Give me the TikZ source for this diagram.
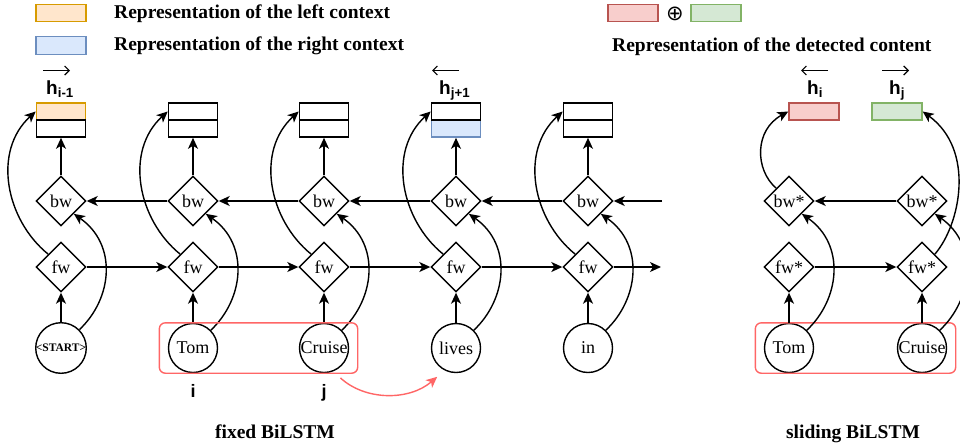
\documentclass[tikz,border=0pt]{standalone}
\usepackage{fontspec}
\setmainfont{Liberation Serif}
\newfontfamily\hsans{Liberation Sans}
\newfontfamily\dejavu{DejaVu Sans}
\usetikzlibrary{arrows.meta,shapes.geometric,fit,calc}
\definecolor{orF}{HTML}{FFE6CC}\definecolor{orL}{HTML}{D79B00}
\definecolor{blF}{HTML}{DAE8FC}\definecolor{blL}{HTML}{6C8EBF}
\definecolor{rdF}{HTML}{F8CECC}\definecolor{rdL}{HTML}{B85450}
\definecolor{grF}{HTML}{D5E8D4}\definecolor{grL}{HTML}{82B366}
\definecolor{hlR}{HTML}{FF6666}
\begin{document}
\begin{tikzpicture}[x=1pt,y=-1pt,
  conn/.style={line width=1.4pt,-{Stealth[length=11pt,width=10pt,inset=3pt]}},
  redconn/.style={line width=1.4pt,draw=hlR,-{Stealth[length=11pt,width=10pt,inset=3pt]}},
  word/.style={circle,draw,line width=1.4pt,minimum size=49pt,inner sep=0pt,font=\fontsize{18}{18}\selectfont},
  cell/.style={diamond,draw,line width=1.4pt,minimum width=50pt,minimum height=50pt,inner sep=0pt,font=\fontsize{18}{18}\selectfont},
  half/.style={rectangle,draw,line width=1.6pt,minimum width=49pt,minimum height=17pt,inner sep=0pt},
  rep/.style={rectangle,draw,line width=1.4pt,minimum width=50pt,minimum height=17pt,inner sep=0pt},
  leg/.style={rectangle,draw,line width=1.3pt,minimum width=50pt,minimum height=17.5pt,inner sep=0pt},
  legtext/.style={anchor=base west,inner sep=0pt,font=\fontsize{19.5}{19.5}\selectfont\bfseries},
  titletext/.style={anchor=base,inner sep=0pt,font=\fontsize{19.5}{19.5}\selectfont\bfseries},
  hlab/.style={anchor=base west,inner sep=0pt,font=\hsans\bfseries\fontsize{19}{19}\selectfont},
  idx/.style={anchor=base,inner sep=0pt,font=\hsans\bfseries\fontsize{18}{18}\selectfont},
  harr/.style={line width=1.2pt,-{Straight Barb[length=4.5pt,width=9pt]}},
  hlbox/.style={draw=hlR,line width=1.4pt,rounded corners=6pt,inner xsep=8.5pt,inner ysep=0pt}
]
\useasboundingbox (0,0) rectangle (960,447);

% legend
\node[leg,fill=orF,draw=orL] (lg1) at (61,13) {};
\node[leg,fill=blF,draw=blL] (lg2) at (61,45.5) {};
\node[legtext] (lt1) at (114,18.5) {Representation of the left context};
\node[legtext] (lt2) at (114,50) {Representation of the right context};
\node[leg,fill=rdF,draw=rdL] (lg3) at (633,13) {};
\node[inner sep=0pt,font=\dejavu\fontsize{21}{21}\selectfont] (op) at (675,14) {⊕};
\node[leg,fill=grF,draw=grL] (lg4) at (716,13) {};
\node[legtext] (lt3) at (612,51) {Representation of the detected content};

% fixed BiLSTM columns
\foreach \n/\x/\lab in {0/61/{\fontsize{11.5}{11.5}\selectfont\bfseries <START>},1/193/Tom,2/324/Cruise,3/456/lives,4/588/in}{
  \node[word] (w\n) at (\x,348) {\lab};
  \node[cell] (f\n) at (\x,267) {fw};
  \node[cell] (b\n) at (\x,201) {bw};
}
% output boxes
\node[half,fill=orF,draw=orL] (t0) at (61,111.5) {};
\node[half] (u0) at (61,128.5) {};
\node[half] (t1) at (193,111.5) {};
\node[half] (u1) at (193,128.5) {};
\node[half] (t2) at (324,111.5) {};
\node[half] (u2) at (324,128.5) {};
\node[half,fill=blF,draw=blL] (u3) at (456,128.5) {};
\node[half] (t3) at (456,111.5) {};
\node[half] (t4) at (588,111.5) {};
\node[half] (u4) at (588,128.5) {};

\foreach \n in {0,...,4}{
  \draw[conn] (w\n.north) -- (f\n.south);
  \draw[conn] (b\n.north) -- (u\n.south);
  \draw[conn] (f\n.north west) .. controls +(-42.5,-34.5) and +(-43.5,39.5) .. (t\n.west);
  \draw[conn] (w\n.north east) .. controls +(33,-31) and +(44,31) .. (b\n.south east);
}
\foreach \a/\b in {0/1,1/2,2/3,3/4}{
  \draw[conn] (f\a.east) -- (f\b.west);
  \draw[conn] (b\b.west) -- (b\a.east);
}
\coordinate (fend) at (661,267);
\coordinate (bstart) at (662,201);
\draw[conn] (f4.east) -- (fend);
\draw[conn] (bstart) -- (b4.east);

% h labels
\node[hlab] (hl1) at (46,94) {h\textsubscript{i-1}};
\node[hlab] (hl2) at (439,94) {h\textsubscript{j+1}};
\node[hlab] (hl3) at (807,94) {h\textsubscript{i}};
\node[hlab] (hl4) at (889,94) {h\textsubscript{j}};
\draw[harr] ($(hl1.base west)+(-3,-23.5)$) -- +(27,0);
\draw[harr] ($(hl2.base west)+(20,-23.5)$) -- +(-27,0);
\draw[harr] ($(hl3.base west)+(21,-23.5)$) -- +(-27,0);
\draw[harr] ($(hl4.base west)+(-7,-23.5)$) -- +(27,0);

% index labels
\node[idx] (li) at (193,397) {i};
\node[idx] (lj) at (324,397) {j};

% highlight group + moving arrow
\node[hlbox,fit=(w1)(w2)] (g1) {};
\coordinate (ra) at ($(g1.south east)+(-18,4)$);
\coordinate (rb) at ($(w3.south west)+(-1,11)$);
\draw[redconn] (ra) .. controls +(25,23) and +(-28,24) .. (rb);

% sliding BiLSTM
\node[word] (s1) at (789,348) {Tom};
\node[word] (s2) at (922,348) {Cruise};
\node[cell] (sf1) at (789,267) {fw*};
\node[cell] (sf2) at (922,267) {fw*};
\node[cell] (sb1) at (789,201) {bw*};
\node[cell] (sb2) at (922,201) {bw*};
\node[rep,fill=rdF,draw=rdL] (hi) at (814,111.5) {};
\node[rep,fill=grF,draw=grL] (hj) at (897,111.5) {};
\node[hlbox,fit=(s1)(s2)] (g2) {};

\draw[conn] (s1.north) -- (sf1.south);
\draw[conn] (s2.north) -- (sf2.south);
\draw[conn] (sf1.east) -- (sf2.west);
\draw[conn] (sb2.west) -- (sb1.east);
\draw[conn] (s1.north east) .. controls +(33,-31) and +(44,31) .. (sb1.south east);
\draw[conn] (s2.north east) .. controls +(33,-31) and +(44,31) .. (sb2.south east);
\draw[conn] (sb1.north west) .. controls +(-21.5,-18.5) and +(-34,18.5) .. (hi.west);
\draw[conn] (sf2.north east) .. controls +(25.5,-29.5) and +(53,38.5) .. (hj.east);

% titles
\node[titletext] (ti1) at (275,438) {fixed BiLSTM};
\node[titletext] (ti2) at (853,438) {sliding BiLSTM};
\end{tikzpicture}
\end{document}
